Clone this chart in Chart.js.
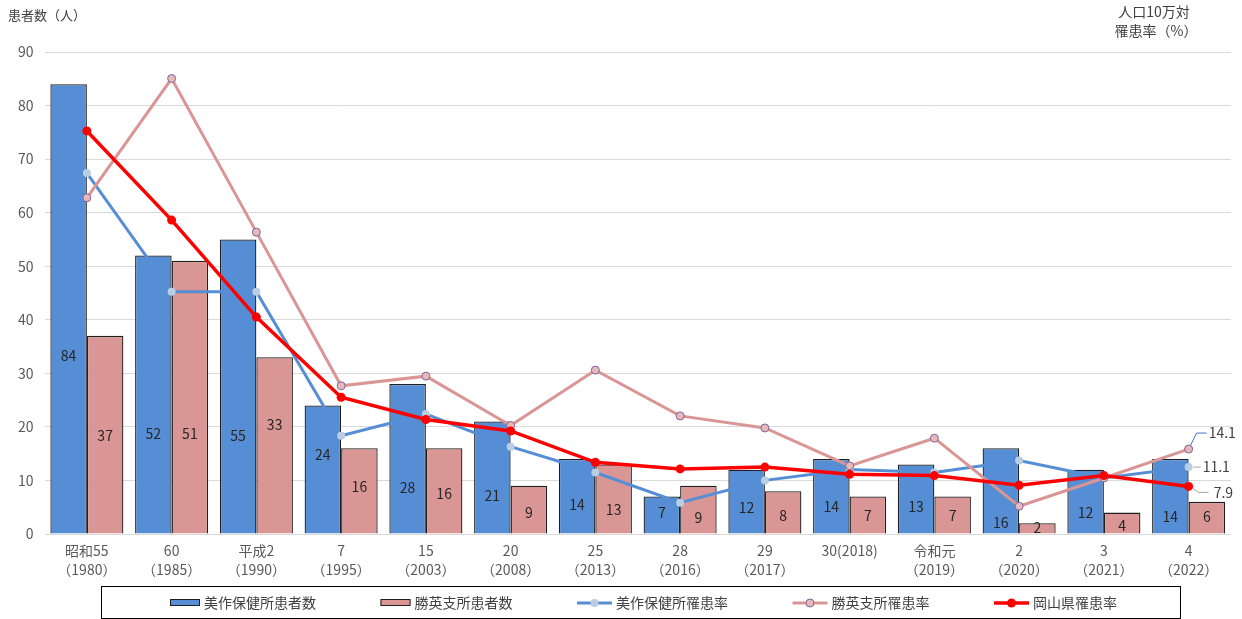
<!DOCTYPE html>
<html lang="ja">
<head>
<meta charset="utf-8">
<title>患者数と罹患率の推移</title>
<script src="https://cdn.jsdelivr.net/npm/chart.js@4.4.1/dist/chart.umd.min.js"></script>
<style>
  html, body { margin: 0; padding: 0; background: #fff; }
  #wrap { width: 1242px; height: 619px; }
</style>
</head>
<body>
<div id="wrap"><canvas id="chart" width="1242" height="619"></canvas></div>
<script>
const categories = [
  ["昭和55", "（1980）"], ["60", "（1985）"], ["平成2", "（1990）"], ["7", "（1995）"],
  ["15", "（2003）"], ["20", "（2008）"], ["25", "（2013）"], ["28", "（2016）"],
  ["29", "（2017）"], "30(2018)", ["令和元", "（2019）"], ["2", "（2020）"],
  ["3", "（2021）"], ["4", "（2022）"],
];

// patients (left axis)
const mimasakaPatients = [84, 52, 55, 24, 28, 21, 14, 7, 12, 14, 13, 16, 12, 14];
const shoeiPatients = [37, 51, 33, 16, 16, 9, 13, 9, 8, 7, 7, 2, 4, 6];

// rate per 100k (hidden right axis)
const mimasakaRate = [59.9, 40.2, 40.2, 16.3, 19.9, 14.5, 10.2, 5.2, 8.9, 10.7, 10.2, 12.2, 9.3, 11.1];
const shoeiRate = [55.8, 75.6, 50.1, 24.6, 26.2, 18.0, 27.2, 19.6, 17.6, 11.3, 15.9, 4.6, 9.3, 14.1];
const okayamaRate = [66.9, 52.1, 36.0, 22.7, 19.0, 17.1, 11.9, 10.8, 11.1, 9.9, 9.7, 8.1, 9.7, 7.9];

const patientTicks = [0, 10, 20, 30, 40, 50, 60, 70, 80, 90];

// where the value labels sit inside each bar, in left-axis units
const mimasakaLabelAt = [33.3, 18.7, 18.4, 14.9, 8.6, 7.1, 5.5, 3.9, 4.9, 5.1, 5.1, 2.1, 3.9, 3.2];
const shoeiLabelAt = [18.4, 18.7, 20.5, 8.8, 7.6, 4.0, 4.6, 3.1, 3.4, 3.5, 3.5, 1.25, 1.55, 3.2];

const FONT = '"Noto Sans CJK JP", "Noto Sans", sans-serif';
const TEXT = "#404040";
const TICK = "#595959";

const BLUE = "#558ED5";
const PINK = "#D99694";
const RED = "#FF0000";

// numbers printed inside the bars
const barLabels = {
  id: "barLabels",
  afterDatasetDraw(chart, args) {
    const ds = chart.data.datasets[args.index];
    if (ds.type !== "bar" || !ds.labelAt) return;
    const ctx = chart.ctx;
    const y = chart.scales.y;
    ctx.save();
    ctx.font = "14px " + FONT;
    ctx.fillStyle = "#262626";
    ctx.textAlign = "center";
    ctx.textBaseline = "middle";
    args.meta.data.forEach((bar, i) => {
      ctx.fillText(String(ds.data[i]), bar.x, y.getPixelForValue(ds.labelAt[i]));
    });
    ctx.restore();
  },
};

// last-point value callouts for the rate lines
const endLabels = {
  id: "endLabels",
  afterDatasetsDraw(chart) {
    const ctx = chart.ctx;
    ctx.save();
    ctx.font = "14px " + FONT;
    ctx.fillStyle = TEXT;
    ctx.textBaseline = "middle";
    ctx.lineWidth = 1;
    chart.data.datasets.forEach((ds, di) => {
      if (!ds.callout) return;
      const meta = chart.getDatasetMeta(di);
      const last = meta.data[meta.data.length - 1];
      const c = ds.callout;
      ctx.strokeStyle = c.color;
      ctx.beginPath();
      c.path.forEach(([dx, dy], k) => {
        if (k === 0) ctx.moveTo(last.x + dx, last.y + dy);
        else ctx.lineTo(last.x + dx, last.y + dy);
      });
      ctx.stroke();
      ctx.textAlign = "left";
      ctx.fillText(ds.data[ds.data.length - 1].toFixed(1), last.x + c.text[0], last.y + c.text[1]);
    });
    ctx.restore();
  },
};

// axis captions at the top corners
const axisTitles = {
  id: "axisTitles",
  afterDraw(chart) {
    const ctx = chart.ctx;
    ctx.save();
    ctx.fillStyle = TEXT;
    ctx.textBaseline = "middle";
    ctx.font = "13px " + FONT;
    ctx.textAlign = "left";
    ctx.fillText("患者数（人）", 8, 15);
    ctx.font = "14px " + FONT;
    ctx.textAlign = "center";
    ctx.fillText("人口10万対", 1154, 12);
    ctx.fillText("罹患率（%）", 1156, 31);
    ctx.restore();
  },
};

// framed legend row under the axis
const boxedLegend = {
  id: "boxedLegend",
  afterDraw(chart) {
    const ctx = chart.ctx;
    const box = { x: 101, y: 586, w: 1079, h: 32 };
    const cy = box.y + box.h / 2 + 1;
    const gap = 64.5;
    ctx.save();
    ctx.strokeStyle = "#000";
    ctx.lineWidth = 1;
    ctx.strokeRect(box.x + 0.5, box.y + 0.5, box.w, box.h);

    ctx.font = "14px " + FONT;
    const items = chart.data.datasets.map((ds) => ({
      ds,
      sw: ds.type === "bar" ? 30 : 35,
      tw: ctx.measureText(ds.label).width,
    }));
    const total = items.reduce((s, it) => s + it.sw + 4 + it.tw, 0) + gap * (items.length - 1);
    let x = 643.5 - total / 2;

    items.forEach(({ ds, sw, tw }) => {
      if (ds.type === "bar") {
        ctx.fillStyle = ds.backgroundColor;
        ctx.fillRect(x, cy - 4, sw, 7);
        ctx.strokeStyle = ds.borderColor;
        ctx.lineWidth = 1;
        ctx.strokeRect(x + 0.5, cy - 3.5, sw - 1, 6);
      } else {
        ctx.strokeStyle = ds.borderColor;
        ctx.lineWidth = ds.borderWidth;
        ctx.beginPath();
        ctx.moveTo(x, cy);
        ctx.lineTo(x + sw, cy);
        ctx.stroke();
        ctx.beginPath();
        ctx.arc(x + sw / 2, cy, ds.pointRadius, 0, Math.PI * 2);
        ctx.fillStyle = ds.pointBackgroundColor;
        ctx.fill();
        if (ds.pointBorderWidth) {
          ctx.lineWidth = ds.pointBorderWidth;
          ctx.strokeStyle = ds.pointBorderColor;
          ctx.stroke();
        }
      }
      ctx.fillStyle = TEXT;
      ctx.textAlign = "left";
      ctx.textBaseline = "middle";
      ctx.fillText(ds.label, x + sw + 4, cy);
      x += sw + 4 + tw + gap;
    });
    ctx.restore();
  },
};

const barCommon = {
  type: "bar",
  yAxisID: "y",
  borderColor: "#1f1f1f",
  borderWidth: 1.3,
  borderSkipped: "bottom",
  categoryPercentage: 0.862,
  barPercentage: 1,
  order: 3,
};

new Chart(document.getElementById("chart"), {
  type: "bar",
  data: {
    labels: categories,
    datasets: [
      { ...barCommon, label: "美作保健所患者数", data: mimasakaPatients, backgroundColor: BLUE, labelAt: mimasakaLabelAt },
      { ...barCommon, label: "勝英支所患者数", data: shoeiPatients, backgroundColor: PINK, labelAt: shoeiLabelAt },
      {
        type: "line", label: "美作保健所罹患率", data: mimasakaRate, yAxisID: "y2", order: 2,
        borderColor: BLUE, borderWidth: 3, pointRadius: 4,
        pointBackgroundColor: "#B9CDE5", pointBorderColor: "#B9CDE5", pointBorderWidth: 0,
        callout: { color: "#A6A6A6", path: [[5, 0], [12, 0]], text: [14, 0] },
      },
      {
        type: "line", label: "勝英支所罹患率", data: shoeiRate, yAxisID: "y2", order: 1,
        borderColor: PINK, borderWidth: 3, pointRadius: 4,
        pointBackgroundColor: "#E6B9B8", pointBorderColor: "#8064A2", pointBorderWidth: 1,
        callout: { color: "#4472C4", path: [[2, -4], [8, -16], [18, -16]], text: [20, -16] },
      },
      {
        type: "line", label: "岡山県罹患率", data: okayamaRate, yAxisID: "y2", order: 0,
        borderColor: RED, borderWidth: 3.5, pointRadius: 4.5,
        pointBackgroundColor: RED, pointBorderColor: RED, pointBorderWidth: 0,
        callout: { color: "#A6A6A6", path: [[4, 2], [10, 6], [20, 6]], text: [25, 6] },
      },
    ],
  },
  options: {
    responsive: false,
    animation: false,
    devicePixelRatio: 1,
    layout: { padding: { top: 52, right: 11, bottom: 35, left: 0 } },
    plugins: {
      legend: { display: false },
      tooltip: { enabled: false },
    },
    scales: {
      x: {
        grid: { display: false, drawTicks: false },
        border: { display: false },
        ticks: { color: TICK, font: { family: FONT, size: 14, lineHeight: 1.3 }, padding: 8, maxRotation: 0, autoSkip: false },
        afterFit: (s) => { s.height = 50; },
      },
      y: {
        min: 0,
        max: 90,
        afterBuildTicks: (s) => { s.ticks = patientTicks.map((v) => ({ value: v })); },
        ticks: { color: TICK, font: { family: FONT, size: 14 }, padding: 11 },
        grid: { color: "#D9D9D9", drawTicks: false },
        border: { display: false },
        afterFit: (s) => { s.width = 44.5; },
      },
      y2: { display: false, position: "right", min: 0, max: 80 },
    },
  },
  plugins: [barLabels, endLabels, axisTitles, boxedLegend],
});
</script>
</body>
</html>
